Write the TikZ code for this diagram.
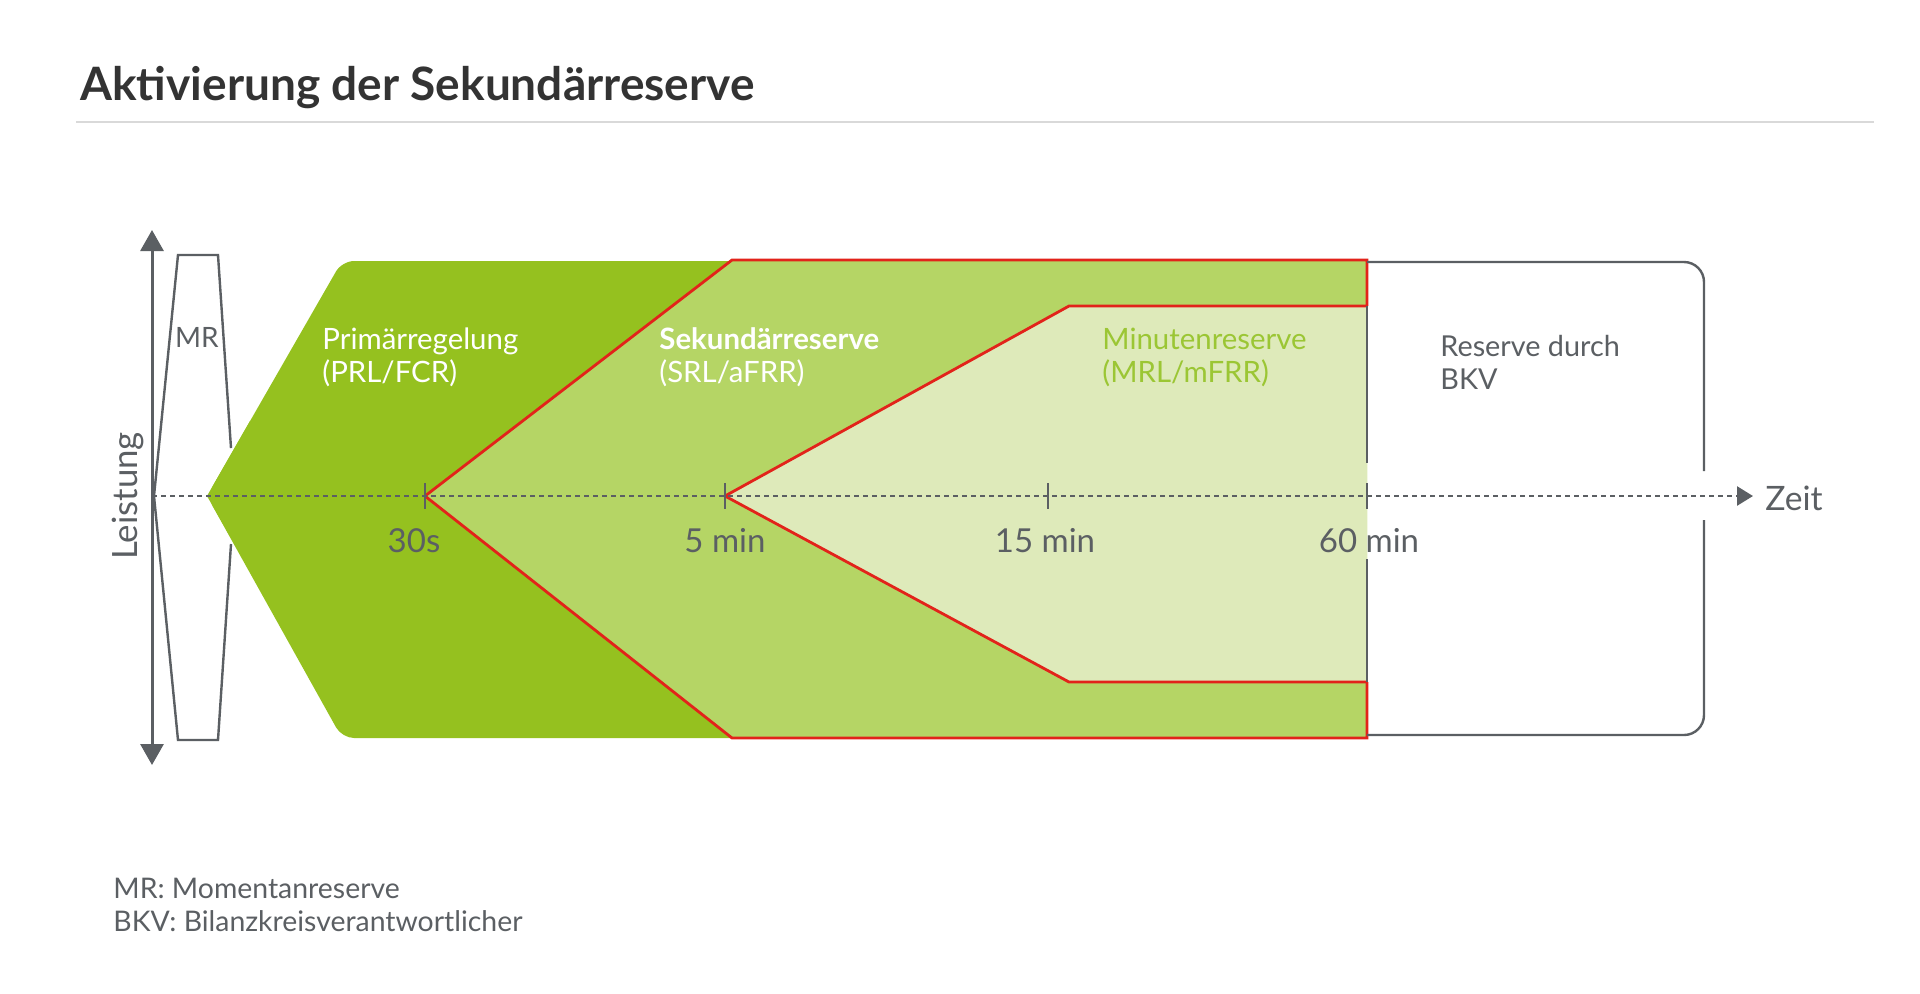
\documentclass[tikz,border=0pt]{standalone}
\usepackage{fontspec}
\setmainfont{Lato}
\usetikzlibrary{arrows.meta}

\definecolor{prlgreen}{HTML}{95C11F}
\definecolor{srlgreen}{HTML}{B5D565}
\definecolor{mrlgreen}{HTML}{DEEABA}
\definecolor{mrltext}{HTML}{9BC634}
\definecolor{redline}{HTML}{E2231A}
\definecolor{axisgray}{HTML}{5B5F63}
\definecolor{titlegray}{HTML}{333333}
\definecolor{rulegray}{HTML}{D9D9D9}

\tikzset{
  axisline/.style={axisgray, line width=1.5pt},
  rededge/.style={redline, line width=1.4pt, line join=miter},
  tick/.style={axisgray, line width=1.2pt},
  label/.style={anchor=base west, inner sep=0pt, align=left, font=\fontsize{14.7pt}{16.5pt}\selectfont},
  ticklabel/.style={anchor=base, inner sep=0pt, text=axisgray, font=\fontsize{16.5pt}{19pt}\selectfont},
}

\begin{document}
\begin{tikzpicture}[x=0.5pt,y=-0.5pt]
\useasboundingbox (0,0) rectangle (1920,993);

% title
\node[anchor=base west, inner sep=0pt, text=titlegray,
      font=\fontsize{23pt}{27pt}\selectfont\bfseries] (title) at (80,100) {Aktivierung der Sekundärreserve};
\draw[rulegray, line width=1pt] (76,122) -- (1874,122);

% time points
\coordinate (O) at (152,496);
\coordinate (T30) at (425,496);
\coordinate (T5) at (725,496);
\coordinate (T15) at (1048,496);
\coordinate (T60) at (1367,496);

% Momentanreserve (right edge hidden near the green tip)
\draw[axisline, line width=1.2pt, line join=miter]
  (231,448) -- (218,255) -- (178,255) -- (154,496) -- (178,740) -- (218,740) -- (231,544);
\node[text=axisgray, inner sep=0pt, font=\fontsize{14pt}{16pt}\selectfont] (mr) at (197,337) {MR};

% Primaerregelung
\fill[prlgreen, rounded corners=6pt] (207,496) -- (342,261) -- (760,261) -- (760,738) -- (342,738) -- cycle;
\fill[prlgreen] (207,496) -- (250,421) -- (250,571) -- cycle;

% Sekundaerreserve
\fill[srlgreen] (T30) -- (732,260) -- (1367,260) -- (1367,738) -- (732,738) -- cycle;

% Minutenreserve
\fill[mrlgreen] (T5) -- (1069,306) -- (1367,306) -- (1367,682) -- (1069,682) -- cycle;

% red outlines
\draw[rededge] (1367,306) -- (1367,260) -- (732,260) -- (T30) -- (732,738) -- (1367,738) -- (1367,682);
\draw[rededge] (1367,306) -- (1069,306) -- (T5) -- (1069,682) -- (1367,682);

% Reserve durch BKV
\draw[axisline, line width=1.2pt, rounded corners=10pt] (1367,262) -- (1704,262) -- (1704,471);
\draw[axisline, line width=1.2pt, rounded corners=10pt] (1704,520) -- (1704,735) -- (1367,735);
\draw[axisline, line width=1.2pt] (1367,306) -- (1367,463);
\draw[axisline, line width=1.2pt] (1367,559) -- (1367,682);

% axes
\draw[axisline, -{Triangle[length=10.5pt, width=11.5pt]}] (O) -- (152,230);
\draw[axisline, -{Triangle[length=10.5pt, width=11.5pt]}] (O) -- (152,765);
\node[rotate=90, text=axisgray, inner sep=0pt, font=\fontsize{17.4pt}{19pt}\selectfont] (leistung) at (128,496) {Leistung};
\coordinate (zeitend) at (1753,496);
\draw[axisgray, line width=1.3pt, dash pattern=on 2.5pt off 2pt,
      -{Triangle[length=8pt, width=9.5pt]}] (O) -- (zeitend);
\node[anchor=west, text=axisgray, inner sep=0pt, font=\fontsize{16.8pt}{19pt}\selectfont] (zeit) at (1765,498) {Zeit};

% ticks
\foreach \p in {T30,T5,T15,T60}
  \draw[tick] ([yshift=6.5pt]\p) -- ([yshift=-6.5pt]\p);
\node[ticklabel] (l30) at (414,552) {30s};
\node[ticklabel] (l5) at (725,552) {5 min};
\node[ticklabel] (l15) at (1045,552) {15 min};
\node[ticklabel] (l60) at (1369,552) {60 min};

% labels
\node[label, text=white] (prl) at (322,382) {Primärregelung\\(PRL/FCR)};
\node[label, text=white] (srl) at (659,382) {\textbf{Sekundärreserve}\\(SRL/aFRR)};
\node[label, text=mrltext] (mrl) at (1102,382) {Minutenreserve\\(MRL/mFRR)};
\node[label, text=axisgray, font=\fontsize{14.4pt}{16.5pt}\selectfont] (bkv) at (1440,389) {Reserve durch\\BKV};

% footnotes
\node[label, text=axisgray, font=\fontsize{14.2pt}{16.5pt}\selectfont] (notes) at (113,931)
  {MR: Momentanreserve\\BKV: Bilanzkreisverantwortlicher};
\end{tikzpicture}
\end{document}
